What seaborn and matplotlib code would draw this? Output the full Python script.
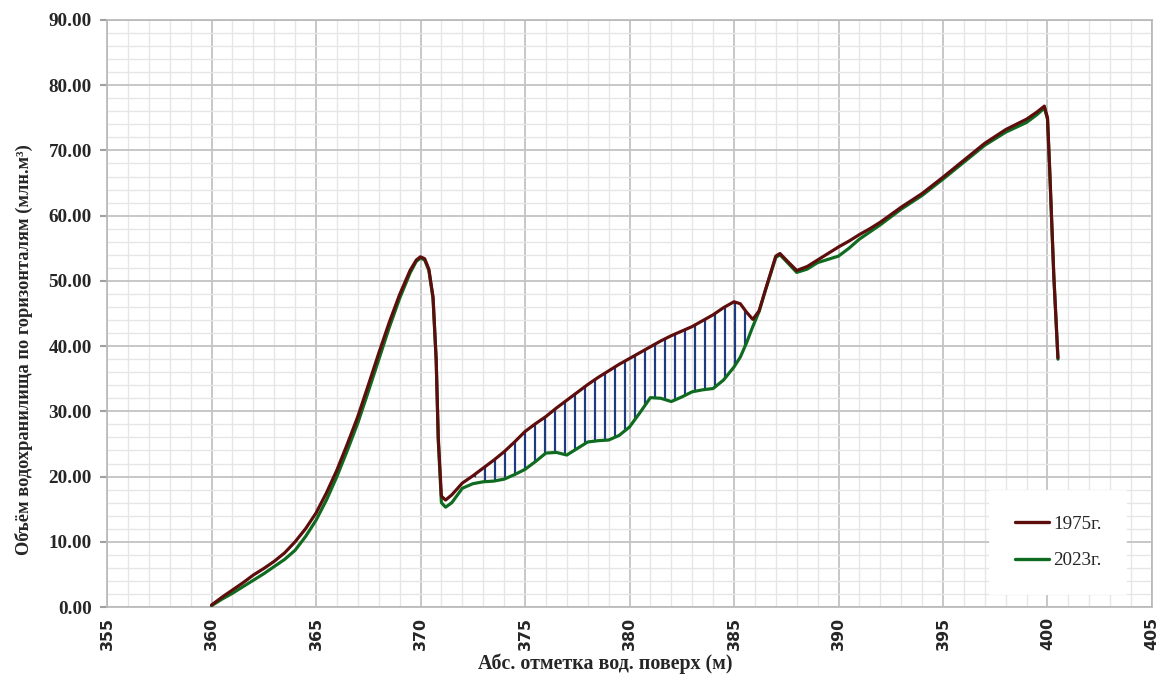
import numpy as np
import pandas as pd
import matplotlib
matplotlib.use("Agg")
import matplotlib.pyplot as plt
from matplotlib.ticker import MultipleLocator, FormatStrFormatter
import seaborn as sns

# ---------------- data ----------------
elev = [360, 360.5, 361, 361.5, 362, 362.5, 363, 363.5, 364, 364.5,
        365, 365.5, 366, 366.5, 367, 367.5, 368, 368.5, 369, 369.5,
        369.8, 370, 370.2, 370.4, 370.6, 370.75, 370.85, 371.0, 371.2, 371.5,
        372, 372.5, 373, 373.5, 374, 374.5, 375, 375.5, 376, 376.5,
        377, 377.5, 378, 378.5, 379, 379.5, 380, 380.5, 381, 381.5,
        382, 382.5, 383, 383.5, 384, 384.5, 385, 385.3, 385.6, 385.9,
        386.2, 386.5, 387, 387.2, 387.5, 388, 388.5, 389, 389.5, 390,
        390.5, 391, 391.5, 392, 393, 394, 395, 396, 397, 398,
        399, 399.5, 399.85, 400.0, 400.1, 400.3, 400.5]

vol_1975 = [0.3, 1.5, 2.6, 3.7, 4.9, 5.9, 7.0, 8.3, 10.0, 12.0,
            14.4, 17.5, 21.0, 25.0, 29.2, 34.0, 38.9, 43.6, 47.9, 51.6,
            53.2, 53.7, 53.4, 51.8, 47.5, 38.0, 26.0, 17.0, 16.4, 17.2,
            19.0, 20.1, 21.3, 22.5, 23.8, 25.3, 26.9, 28.1, 29.2, 30.5,
            31.7, 32.9, 34.1, 35.2, 36.2, 37.2, 38.1, 39.0, 39.9, 40.8,
            41.6, 42.3, 43.0, 43.9, 44.8, 45.9, 46.8, 46.5, 45.2, 44.1,
            45.4, 48.6, 53.8, 54.2, 53.2, 51.6, 52.2, 53.2, 54.2, 55.2,
            56.1, 57.1, 58.0, 59.0, 61.3, 63.4, 65.9, 68.5, 71.1, 73.2,
            74.8, 75.9, 76.8, 75.0, 67.5, 51.0, 38.2]

vol_2023 = [0.2, 1.2, 2.1, 3.1, 4.1, 5.1, 6.2, 7.3, 8.7, 10.8,
            13.3, 16.4, 20.0, 24.0, 28.2, 33.0, 37.9, 42.8, 47.3, 51.2,
            53.0, 53.5, 53.2, 51.6, 47.3, 37.8, 25.5, 16.0, 15.3, 16.0,
            18.2, 18.9, 19.2, 19.3, 19.6, 20.3, 21.1, 22.3, 23.6, 23.7,
            23.3, 24.3, 25.3, 25.5, 25.6, 26.3, 27.6, 29.8, 32.1, 32.0,
            31.5, 32.2, 33.0, 33.3, 33.5, 34.8, 36.8, 38.3, 40.5, 43.0,
            45.3, 48.5, 53.6, 54.0, 53.0, 51.3, 51.8, 52.8, 53.3, 53.8,
            55.0, 56.4, 57.5, 58.6, 61.0, 63.1, 65.6, 68.2, 70.8, 72.8,
            74.3, 75.5, 76.5, 74.8, 67.3, 50.8, 38.0]

series_labels = ["1975г.", "2023г."]
hatch_range = [373.0, 386.0]
x_ticks = list(range(355, 406, 5))
y_ticks = list(range(0, 91, 10))

# ---------------- styling ----------------
sns.set_theme(style="whitegrid")
plt.rcParams["font.family"] = ["Liberation Serif", "DejaVu Serif"]
plt.rcParams["hatch.linewidth"] = 1.3

DPI = 120
fig = plt.figure(figsize=(1163 / DPI, 687 / DPI), dpi=DPI)
ax = fig.add_axes([107 / 1163, 1 - 607 / 687, (1152 - 107) / 1163, (607 - 20) / 687])
ax.set_facecolor("white")

c75 = "#5e0d0d"
c23 = "#0e6b1f"

df = pd.DataFrame({"x": elev, "v75": vol_1975, "v23": vol_2023})

# hatched difference area
xa = np.array(elev)
ya = np.array(vol_1975)
yb = np.array(vol_2023)
mask = (xa >= hatch_range[0]) & (xa <= hatch_range[1])
ax.fill_between(xa, ya, yb, where=mask & (ya >= yb), interpolate=True,
                facecolor="none", edgecolor="#1f3b80", hatch="||",
                linewidth=0, zorder=2)

sns.lineplot(data=df, x="x", y="v75", ax=ax, color=c75, lw=1.9,
             label=series_labels[0], zorder=4, sort=False)
sns.lineplot(data=df, x="x", y="v23", ax=ax, color=c23, lw=1.9,
             label=series_labels[1], zorder=3, sort=False)

ax.set_xlim(355, 405)
ax.set_ylim(0, 90)
ax.set_xticks(x_ticks)
ax.set_yticks(y_ticks)
ax.xaxis.set_minor_locator(MultipleLocator(1))
ax.yaxis.set_minor_locator(MultipleLocator(2))
ax.yaxis.set_major_formatter(FormatStrFormatter("%.2f"))

ax.grid(which="major", color="#c4c4c4", lw=1.1, zorder=0)
ax.grid(which="minor", color="#e6e6e6", lw=0.8, zorder=0)
ax.set_axisbelow(True)
for sp in ax.spines.values():
    sp.set_color("#b8b8b8")
    sp.set_linewidth(1.0)

ax.tick_params(axis="y", which="major", length=4, color="#a0a0a0", pad=5,
               left=True)
ax.tick_params(axis="y", which="minor", length=0)
ax.tick_params(axis="x", which="both", length=0, pad=6)

for lab in ax.get_yticklabels():
    lab.set_fontfamily(["Liberation Serif"])
    lab.set_fontweight("bold")
    lab.set_fontsize(11.5)
for lab in ax.get_xticklabels():
    lab.set_fontfamily(["DejaVu Sans"])
    lab.set_fontweight("bold")
    lab.set_fontsize(9.5)
    lab.set_rotation(90)

ax.set_xlabel("Абс. отметка вод. поверх (м)", fontsize=12, fontweight="bold")
ax.xaxis.set_label_coords((605 - 107) / 1045, (607 - 664) / 587)
ax.xaxis.label.set_va("center")
ax.set_ylabel("Объём водохранилища по горизонталям (млн.м³)", fontsize=11,
              fontweight="bold")
ax.yaxis.set_label_coords((24 - 107) / 1045, (607 - 350) / 587)
ax.yaxis.label.set_va("center")

leg = ax.legend(loc="center", bbox_to_anchor=(0.910, 0.110), frameon=True,
                fontsize=11.5, handlelength=1.8, handletextpad=0.2,
                labelspacing=1.0, borderpad=1.3, fancybox=False)
leg.get_frame().set_facecolor("white")
leg.get_frame().set_edgecolor("white")
leg.get_frame().set_alpha(1.0)
for h in leg.get_lines():
    h.set_linewidth(2.0)

fig.savefig("out.png", dpi=DPI, facecolor="white")
